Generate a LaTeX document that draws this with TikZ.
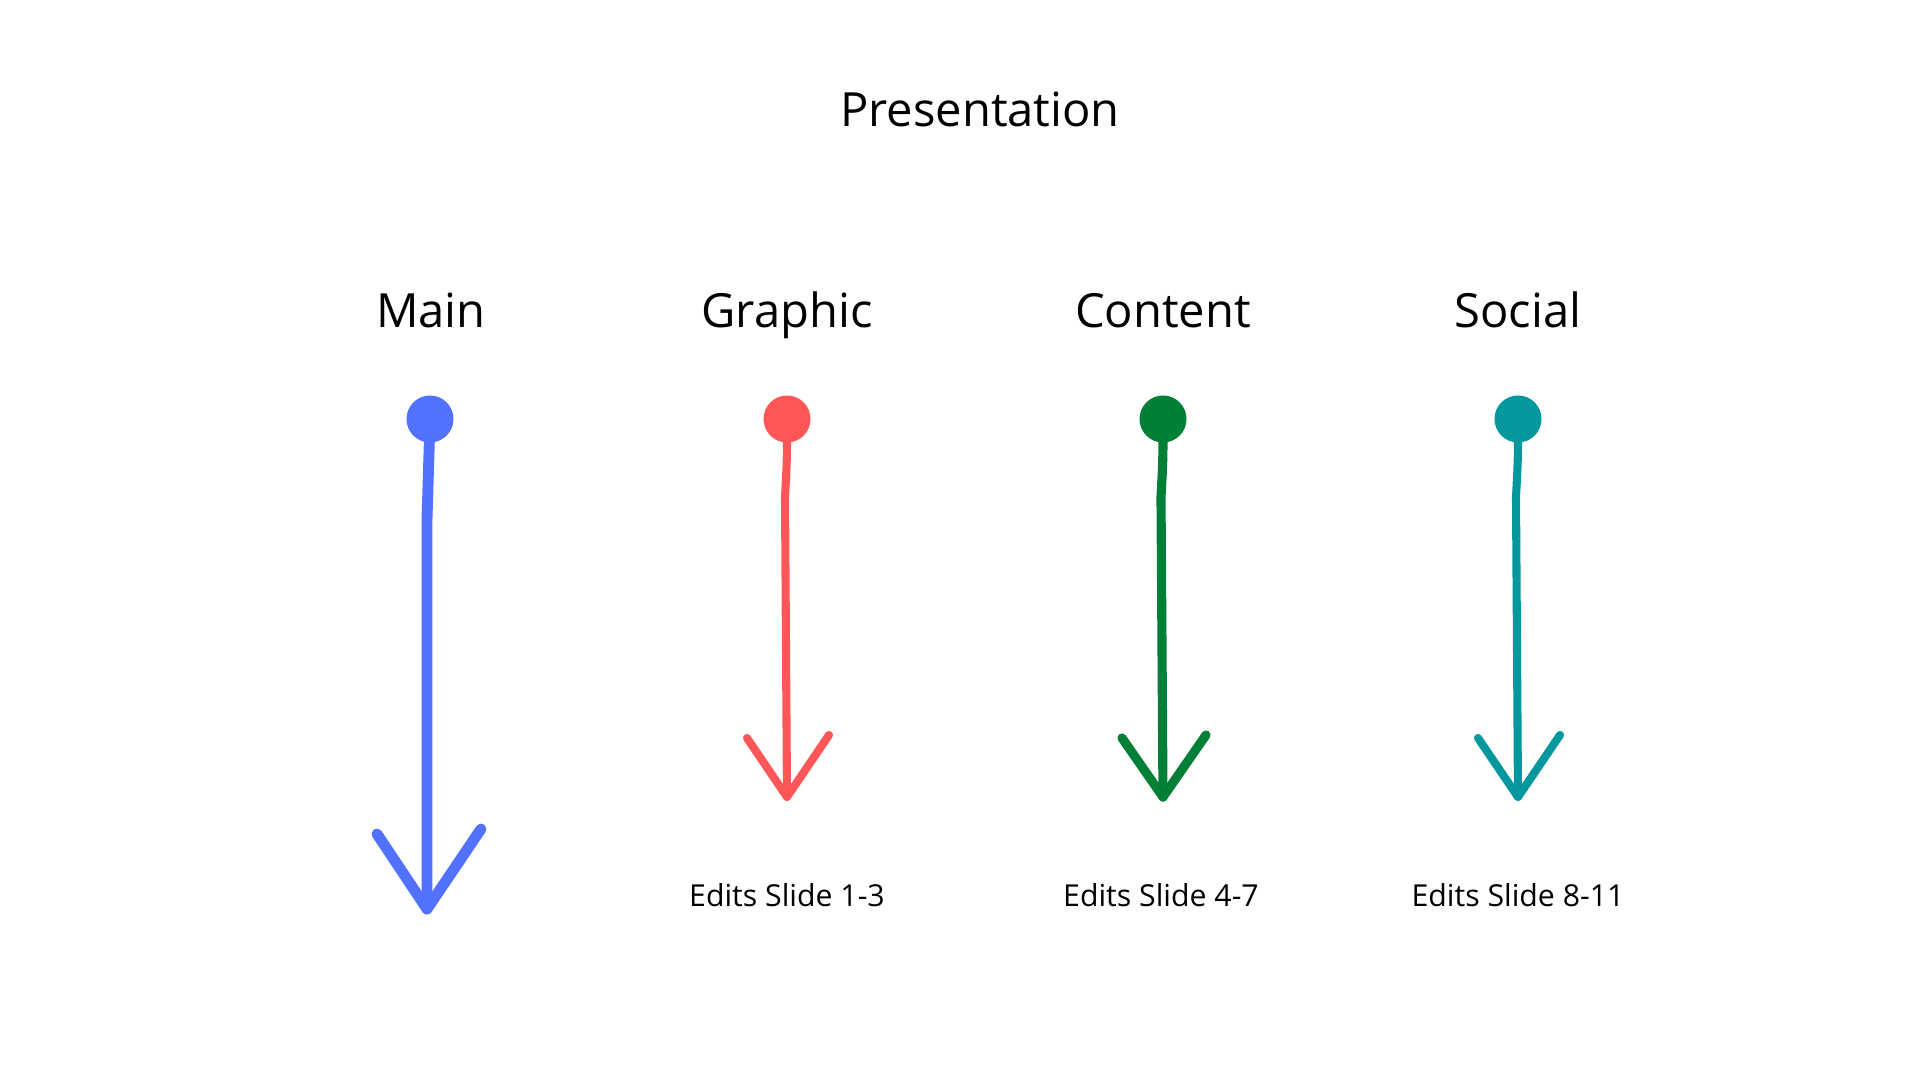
\documentclass[tikz,border=0pt]{standalone}
\usepackage{fontspec}
\setmainfont{Open Sans}
\usepackage{tikz}
\usetikzlibrary{positioning,calc}
\definecolor{mainblue}{HTML}{5271FF}
\definecolor{gfxred}{HTML}{FF5757}
\definecolor{contgreen}{HTML}{008037}
\definecolor{socteal}{HTML}{03989E}

\begin{document}
\begin{tikzpicture}[x=0.01cm, y=-0.01cm,
    head/.style={font=\fontsize{13.4pt}{16pt}\selectfont, anchor=base},
    dot/.style={circle, fill=#1, minimum size=0.47cm, inner sep=0pt},
    edits/.style={font=\fontsize{8.6pt}{10pt}\selectfont, anchor=base},
    track/.style={draw=#1, line width=2.3pt, line cap=round, line join=round}]
  \useasboundingbox (0,0) rectangle (1920,1080);

  % Title
  \node[head] (title) at (980,127) {Presentation};

  % Column heads
  \node[head] (main) at (431,328) {Main};
  \node[head] (graphic) at (787,328) {Graphic};
  \node[head] (content) at (1163,328) {Content};
  \node[head] (social) at (1518,328) {Social};

  % Start dots
  \node[dot=mainblue] (main-dot) at (430,419) {};
  \node[dot=gfxred] (graphic-dot) at (787,419) {};
  \node[dot=contgreen] (content-dot) at (1163,419) {};
  \node[dot=socteal] (social-dot) at (1518,419) {};

  % Arrow tips
  \coordinate (main-tip) at (427,909);
  \coordinate (graphic-tip) at (787,797);
  \coordinate (content-tip) at (1163,797);
  \coordinate (social-tip) at (1518,797);

  % Main (longer, thicker)
  \draw[track=mainblue, line width=3.1pt]
    (main-dot.center) .. controls (429,470) .. (427,520) -- (main-tip);
  \draw[track=mainblue, line width=3.1pt]
    ($(main-tip)+(-50,-75)$) -- (main-tip) -- ($(main-tip)+(54,-80)$);

  % Graphic
  \draw[track=gfxred]
    (graphic-dot.center) .. controls (787,460) .. (785,497) -- (graphic-tip);
  \draw[track=gfxred]
    ($(graphic-tip)+(-40,-59)$) -- (graphic-tip) -- ($(graphic-tip)+(42,-62)$);

  % Content
  \draw[track=contgreen, line width=2.6pt]
    (content-dot.center) .. controls (1163,460) .. (1161,497) -- (content-tip);
  \draw[track=contgreen, line width=2.6pt]
    ($(content-tip)+(-41,-59)$) -- (content-tip) -- ($(content-tip)+(43,-62)$);

  % Social
  \draw[track=socteal]
    (social-dot.center) .. controls (1518,460) .. (1516,497) -- (social-tip);
  \draw[track=socteal]
    ($(social-tip)+(-40,-59)$) -- (social-tip) -- ($(social-tip)+(42,-62)$);

  % Slide ranges
  \node[edits] (graphic-edits) at (787,907) {Edits Slide 1-3};
  \node[edits] (content-edits) at (1161,907) {Edits Slide 4-7};
  \node[edits] (social-edits) at (1518,907) {Edits Slide 8-11};
\end{tikzpicture}
\end{document}
